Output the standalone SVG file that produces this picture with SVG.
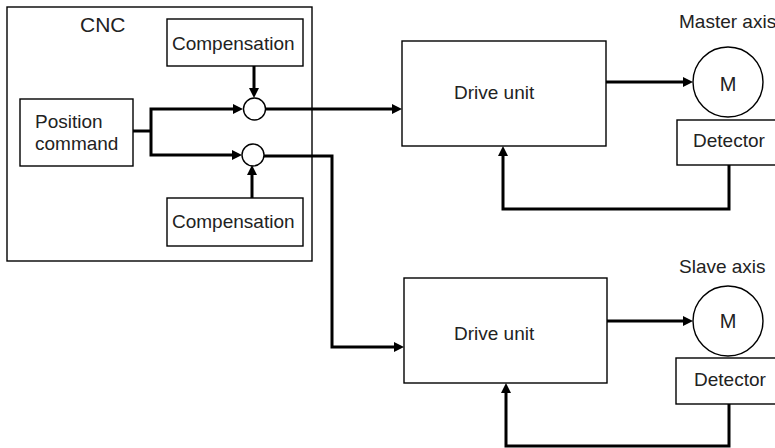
<svg xmlns="http://www.w3.org/2000/svg" width="775" height="448" viewBox="0 0 775 448">
<style>
.box{fill:#fff;stroke:#000;stroke-width:1.4}
.frame{fill:none;stroke:#000;stroke-width:1.4}
.t{font-family:"Liberation Sans",Arial,sans-serif;font-size:19px;fill:#222}
.c{fill:none;stroke:#000;stroke-width:3;stroke-linejoin:miter}
.a{marker-end:url(#ah)}
</style>
<defs>
<marker id="ah" markerUnits="userSpaceOnUse" markerWidth="10" markerHeight="10" refX="2" refY="5" orient="auto">
<path d="M0,0 L10,5 L0,10 z" fill="#000"/>
</marker>
</defs>
<g id="cnc">
<rect class="frame" x="7" y="7" width="305" height="254"/>
<text class="t" x="80" y="32" style="font-size:21px">CNC</text>
</g>
<g id="comp-top">
<rect class="box" x="167" y="19" width="136" height="47"/>
<text class="t" x="172" y="50">Compensation</text>
</g>
<g id="position-command">
<rect class="box" x="20" y="99" width="113" height="67"/>
<text class="t" x="35" y="128">Position</text>
<text class="t" x="35" y="150">command</text>
</g>
<g id="comp-bottom">
<rect class="box" x="167" y="198" width="136" height="48"/>
<text class="t" x="172" y="228">Compensation</text>
</g>
<g id="sum-top"><circle class="box" cx="254.5" cy="109" r="11"/></g>
<g id="sum-bottom"><circle class="box" cx="253" cy="155" r="11"/></g>
<g id="drive-master">
<rect class="box" x="402" y="41" width="204" height="105"/>
<text class="t" x="454" y="99">Drive unit</text>
</g>
<g id="drive-slave">
<rect class="box" x="404" y="278" width="203" height="105"/>
<text class="t" x="454" y="340">Drive unit</text>
</g>
<g id="master-axis">
<text class="t" x="679" y="28">Master axis</text>
<circle class="box" cx="728" cy="82" r="35"/>
<text class="t" x="728" y="91" text-anchor="middle" style="font-size:20px">M</text>
</g>
<g id="master-detector">
<rect class="box" x="677" y="120" width="120" height="45"/>
<text class="t" x="693" y="147">Detector</text>
</g>
<g id="slave-axis">
<text class="t" x="679" y="273">Slave axis</text>
<circle class="box" cx="728" cy="321" r="35"/>
<text class="t" x="728" y="328" text-anchor="middle" style="font-size:20px">M</text>
</g>
<g id="slave-detector">
<rect class="box" x="676" y="358" width="120" height="46"/>
<text class="t" x="694" y="386">Detector</text>
</g>
<g id="connectors">
<path class="c" d="M133,131 H151"/>
<path class="c a" d="M151,131 V109 H235"/>
<path class="c a" d="M151,131 V155 H234"/>
<path class="c a" d="M254,66 V90"/>
<path class="c a" d="M252,198 V173"/>
<path class="c a" d="M265.5,109 H394"/>
<path class="c a" d="M264,156 H332 V347 H396"/>
<path class="c a" d="M606,82 H685"/>
<path class="c a" d="M729,165 V209 H503 V154"/>
<path class="c a" d="M607,321 H685"/>
<path class="c a" d="M729,404 V446 H506 V391"/>
</g>
</svg>
